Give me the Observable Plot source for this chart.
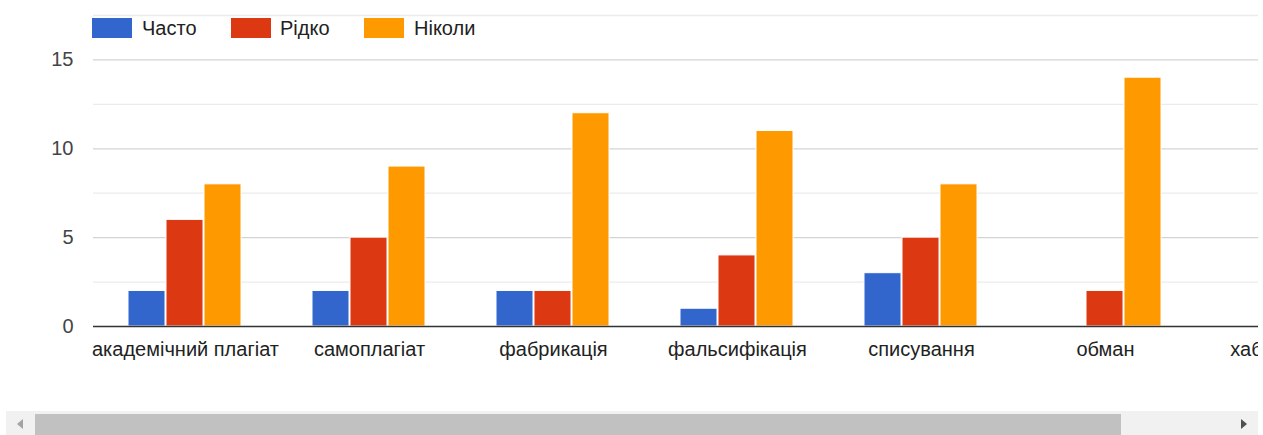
<!DOCTYPE html>
<html>
<head>
<meta charset="utf-8">
<script src="https://cdn.jsdelivr.net/npm/d3@7"></script>
<script src="https://cdn.jsdelivr.net/npm/@observablehq/plot@0.6"></script>
<style>
  html, body { margin: 0; padding: 0; background: #fff; overflow: hidden; }
  body { font-family: "Liberation Sans", Arial, sans-serif; width: 1263px; height: 435px; position: relative; }
  #clip { position: absolute; left: 0; top: 0; width: 1258px; height: 405px; overflow: hidden; }
  #clip svg { max-width: none !important; height: auto; }
  #legend { position: absolute; left: 0; top: 0; height: 56px; width: 600px; }
  .sw { position: absolute; top: 18px; width: 40px; height: 20px; box-sizing: border-box; }
  .lt { position: absolute; top: 17px; font-size: 20px; line-height: 22px; color: #222; white-space: nowrap; }
  #track { position: absolute; left: 6px; top: 411px; width: 1252px; height: 24px; background: #f1f1f1; }
  #thumb { position: absolute; left: 35px; top: 414px; width: 1086px; height: 21px; background: #c1c1c1; }
  .arrow { position: absolute; width: 0; height: 0; border-top: 5px solid transparent; border-bottom: 5px solid transparent; }
</style>
</head>
<body>
<div id="clip"></div>
<div id="legend"></div>
<div id="track"></div>
<div id="thumb"></div>
<div class="arrow" style="left:17px; top:419px; border-right:6px solid #a3a3a3;"></div>
<div class="arrow" style="left:1241px; top:419px; border-left:6px solid #505050;"></div>
<script>
const categories = ["академічний плагіат", "самоплагіат", "фабрикація", "фальсифікація", "списування", "обман", "хабарництво"];
const seriesNames = ["Часто", "Рідко", "Ніколи"];
const often  = [2, 2, 2, 1, 3, 0, 0];
const rarely = [6, 5, 2, 4, 5, 2, 1];
const never  = [8, 9, 12, 11, 8, 14, 15];
const seriesColors = ["#3366cc", "#dc3912", "#ff9900"];
const majorTicks = [0, 5, 10, 15];
const minorTicks = [2.5, 7.5, 12.5, 17.5];

const seriesValues = [often, rarely, never];
const rows = [];
categories.forEach((c, i) => {
  seriesNames.forEach((s, j) => rows.push({cat: c, series: s, value: seriesValues[j][i]}));
});

const step = 184.4;
const marginLeft = 92;
const width = Math.round(marginLeft + categories.length * step + 10);

const chart = Plot.plot({
  width: width,
  height: 400,
  marginTop: 15,
  marginBottom: 74,
  marginLeft: marginLeft,
  marginRight: width - marginLeft - categories.length * step,
  style: {fontFamily: '"Liberation Sans", Arial, sans-serif', fontSize: "20px", color: "#222", background: "transparent", overflow: "visible", maxWidth: "none"},
  facet: {data: rows, x: "cat"},
  fx: {domain: categories, padding: 0, axis: "bottom", tickSize: 0, tickPadding: 15, label: null},
  x: {domain: seriesNames, paddingInner: 0.0256, paddingOuter: 0.877, axis: null},
  y: {domain: [0, 17.5], ticks: majorTicks, tickSize: 0, tickPadding: 20, label: null, tickFormat: d => String(d)},
  color: {domain: seriesNames, range: seriesColors},
  marks: [
    Plot.ruleY(minorTicks, {stroke: "#ebebeb", strokeWidth: 1.3}),
    Plot.ruleY(majorTicks.filter(d => d > 0), {stroke: "#d4d4d4", strokeWidth: 1.3}),
    Plot.barY(rows, {x: "series", y: "value", fill: "series", stroke: "#ffffff", strokeWidth: 1}),
    Plot.ruleY([0], {stroke: "#333", strokeWidth: 1.5})
  ]
});
chart.style.maxWidth = "none";
chart.style.width = width + "px";
chart.style.height = "400px";
document.getElementById("clip").appendChild(chart);
chart.querySelectorAll("g[aria-label='y-axis'] text, g[aria-label='y-axis tick label'] text").forEach(t => t.setAttribute("fill", "#444"));

// legend
const legend = document.getElementById("legend");
const swX = [92, 231, 364];
const txX = [142, 280, 414];
seriesNames.forEach((s, i) => {
  const sw = document.createElement("div");
  sw.className = "sw";
  sw.style.left = swX[i] + "px";
  sw.style.background = seriesColors[i];
  legend.appendChild(sw);
  const t = document.createElement("div");
  t.className = "lt";
  t.style.left = txX[i] + "px";
  t.textContent = s;
  legend.appendChild(t);
});
</script>
</body>
</html>
